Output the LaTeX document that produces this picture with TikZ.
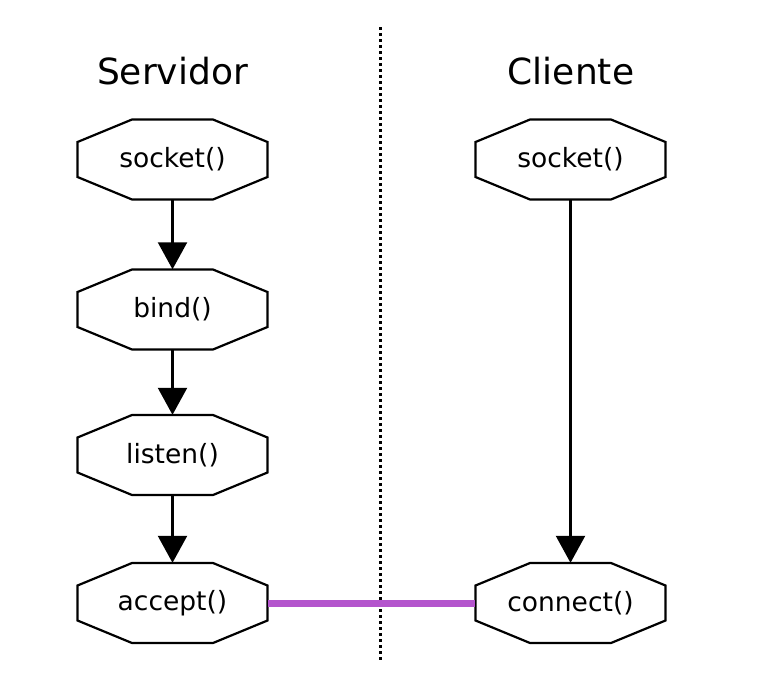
\documentclass[tikz,border=0pt]{standalone}
\usepackage{fontspec}
\setmainfont{DejaVu Sans}
\usetikzlibrary{arrows.meta}
\definecolor{linkpurple}{RGB}{180,85,205}
\tikzset{
  octo/.style={minimum width=190pt, minimum height=80pt, inner sep=0pt, font=\fontsize{26.5}{30}\selectfont},
  octoline/.style={line width=2.2pt, line join=miter},
  title/.style={font=\fontsize{36}{42}\selectfont, inner sep=0pt},
  flow/.style={line width=2.3pt, -{Triangle[width=29pt,length=27pt]}},
  link/.style={line width=7pt, linkpurple},
  divider/.style={line width=3pt, dash pattern=on 3pt off 3pt}
}
\begin{document}
\begin{tikzpicture}[x=1pt,y=-1pt]
\useasboundingbox (0,0) rectangle (776,683);
\node[title] (tS) at (172.5,71) {Servidor};
\node[title] (tC) at (571,71) {Cliente};
\coordinate (dtop) at (380,27);
\coordinate (dbot) at (380,661);
\draw[divider] (dtop) -- (dbot);
\node[octo] (s1) at (172.5,159.5) {socket()};
\node[octo] (s2) at (172.5,309.5) {bind()};
\node[octo] (s3) at (172.5,455) {listen()};
\node[octo] (s4) at (172.5,603) {accept()};
\node[octo] (c1) at (570.5,159.5) {socket()};
\node[octo] (c2) at (570.5,603) {connect()};
\foreach \n in {s1,s2,s3,s4,c1,c2}
  \draw[octoline] (\n.center) ++(-40.5,-40) -- ++(81,0) -- ++(54.5,22.5) -- ++(0,35) -- ++(-54.5,22.5) -- ++(-81,0) -- ++(-54.5,-22.5) -- ++(0,-35) -- cycle;
\draw[flow] (s1) -- (s2);
\draw[flow] (s2) -- (s3);
\draw[flow] (s3) -- (s4);
\draw[flow] (c1) -- (c2);
\draw[link] (s4) -- (c2);
\end{tikzpicture}
\end{document}
